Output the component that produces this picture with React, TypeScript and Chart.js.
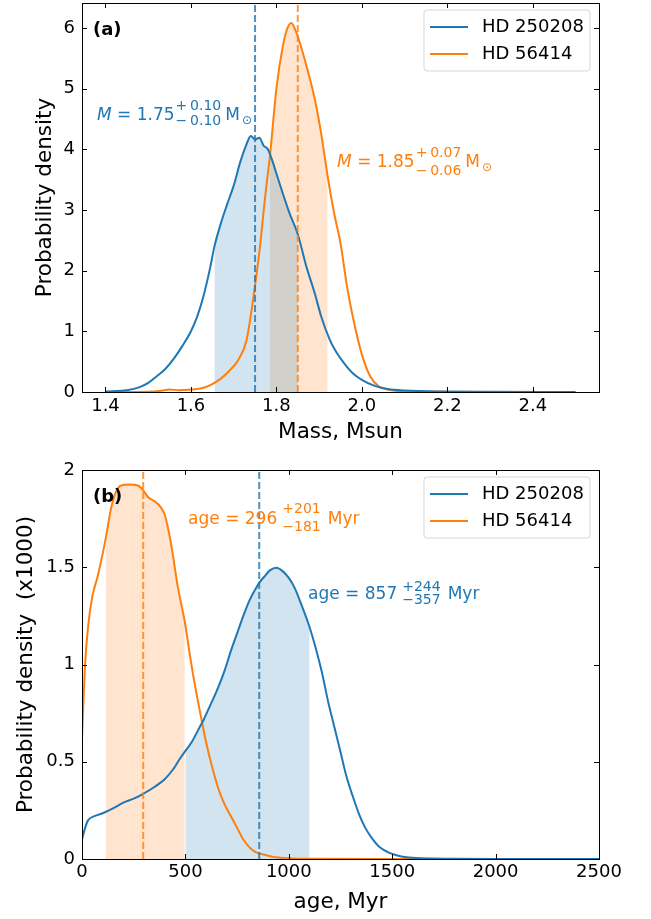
import React, { useEffect, useRef } from 'react';
import { Chart, registerables } from 'chart.js';

Chart.register(...registerables);

const FONT = '"DejaVu Sans", "Liberation Sans", sans-serif';
const BLUE = '#1f77b4';
const ORANGE = '#ff7f0e';
const SERIES_NAMES = ['HD 250208', 'HD 56414'];

// ---------- Panel (a): mass ----------
const massBlueX = [1.40, 1.45, 1.48, 1.50, 1.52, 1.54, 1.56, 1.58, 1.60, 1.615, 1.63, 1.645, 1.655, 1.67, 1.685, 1.70, 1.715, 1.73, 1.74, 1.75, 1.76, 1.77, 1.78, 1.79, 1.80, 1.815, 1.83, 1.85, 1.87, 1.89, 1.905, 1.925, 1.94, 1.96, 1.98, 2.00, 2.03, 2.06, 2.10, 2.20, 2.30, 2.50];
const massBlueY = [0.01, 0.03, 0.08, 0.15, 0.26, 0.38, 0.55, 0.76, 1.00, 1.25, 1.60, 2.05, 2.40, 2.78, 3.10, 3.40, 3.78, 4.08, 4.22, 4.16, 4.19, 4.06, 4.00, 3.82, 3.60, 3.27, 2.96, 2.60, 2.07, 1.62, 1.24, 0.86, 0.66, 0.46, 0.30, 0.20, 0.10, 0.05, 0.025, 0.008, 0.003, 0.0];
const massOrangeX = [1.40, 1.50, 1.53, 1.55, 1.57, 1.60, 1.63, 1.65, 1.67, 1.69, 1.71, 1.73, 1.745, 1.76, 1.775, 1.785, 1.80, 1.815, 1.825, 1.835, 1.845, 1.855, 1.87, 1.89, 1.905, 1.92, 1.935, 1.95, 1.965, 1.98, 2.00, 2.02, 2.04, 2.07, 2.10, 2.20, 2.50];
const massOrangeY = [0.0, 0.005, 0.02, 0.04, 0.03, 0.04, 0.07, 0.13, 0.22, 0.35, 0.52, 0.85, 1.50, 2.30, 3.30, 3.90, 5.00, 5.70, 5.98, 6.08, 5.95, 5.75, 5.38, 4.82, 4.25, 3.55, 2.95, 2.45, 1.75, 1.20, 0.62, 0.25, 0.09, 0.03, 0.01, 0.002, 0.0];
const massMedian = [1.75, 1.85];
const massErrPlus = ['0.10', '0.07'];
const massErrMinus = ['0.10', '0.06'];
const massBlueInterval = [1.655, 1.85];
const massOrangeInterval = [1.785, 1.92];
const massXTicks = [1.4, 1.6, 1.8, 2.0, 2.2, 2.4];
const massXTickLabels = ['1.4', '1.6', '1.8', '2.0', '2.2', '2.4'];
const massYTicks = [0, 1, 2, 3, 4, 5, 6];
const massYTickLabels = ['0', '1', '2', '3', '4', '5', '6'];
const massXRange = [1.345, 2.555];
const massYRange = [0, 6.41];

// ---------- Panel (b): age ----------
const ageBlueX = [0, 15, 30, 60, 100, 150, 200, 250, 296, 350, 400, 440, 470, 500, 530, 560, 590, 620, 650, 690, 720, 750, 780, 810, 840, 857, 880, 910, 940, 970, 1000, 1030, 1060, 1090, 1101, 1130, 1160, 1190, 1220, 1250, 1280, 1310, 1340, 1370, 1400, 1440, 1490, 1550, 1600, 1700, 1800, 2000, 2500];
const ageBlueY = [0.10, 0.16, 0.20, 0.22, 0.235, 0.26, 0.29, 0.31, 0.335, 0.37, 0.41, 0.46, 0.51, 0.556, 0.60, 0.66, 0.72, 0.79, 0.86, 0.97, 1.07, 1.16, 1.25, 1.33, 1.39, 1.42, 1.45, 1.485, 1.497, 1.48, 1.445, 1.39, 1.31, 1.225, 1.19, 1.085, 0.96, 0.81, 0.68, 0.55, 0.42, 0.32, 0.23, 0.16, 0.11, 0.06, 0.03, 0.012, 0.006, 0.002, 0.001, 0.0, 0.0];
const ageOrangeX = [0, 15, 30, 50, 75, 100, 115, 140, 165, 190, 230, 270, 296, 320, 350, 380, 400, 420, 440, 460, 480, 497, 520, 540, 570, 600, 630, 660, 690, 720, 750, 780, 810, 840, 870, 920, 1000, 1100, 1500, 2500];
const ageOrangeY = [0.62, 1.00, 1.20, 1.35, 1.45, 1.57, 1.65, 1.80, 1.89, 1.92, 1.925, 1.92, 1.895, 1.86, 1.84, 1.81, 1.77, 1.68, 1.56, 1.42, 1.31, 1.22, 1.06, 0.93, 0.76, 0.60, 0.47, 0.36, 0.28, 0.22, 0.16, 0.10, 0.06, 0.035, 0.025, 0.012, 0.004, 0.001, 0.0, 0.0];
const ageMedian = [857, 296];
const ageErrPlus = ['244', '201'];
const ageErrMinus = ['357', '181'];
const ageBlueInterval = [500, 1101];
const ageOrangeInterval = [115, 497];
const ageXTicks = [0, 500, 1000, 1500, 2000, 2500];
const ageXTickLabels = ['0', '500', '1000', '1500', '2000', '2500'];
const ageYTicks = [0, 0.5, 1, 1.5, 2];
const ageYTickLabels = ['0', '0.5', '1', '1.5', '2'];
const ageXRange = [0, 2500];
const ageYRange = [0, 2];

type Anno = {
  color: string; x: number; y: number; lead?: string; main: string;
  sup: string; sub: string; supDy: number; subDy: number;
  gap1: number; gap2: number; unit: string; unitSub?: string;
};

type PanelCfg = {
  height: number; areaTop: number; xAxisHeight: number; xTickPad: number;
  xTitle: string; xTitlePad: number; yTitle: string; yTitlePad: number;
  xRange: number[]; yRange: number[]; xTicks: number[]; xTickLabels: string[];
  yTicks: number[]; yTickLabels: string[];
  blue: { x: number; y: number }[]; orange: { x: number; y: number }[];
  blueInt: number[]; orangeInt: number[]; medians: number[];
  label: string; annos: Anno[];
};

const toPts = (xs: number[], ys: number[]) => xs.map((x, i) => ({ x, y: ys[i] }));
const inRange = (pts: { x: number; y: number }[], r: number[]) =>
  pts.filter((p) => p.x >= r[0] - 1e-9 && p.x <= r[1] + 1e-9);

const massPanel: PanelCfg = {
  height: 445, areaTop: 3, xAxisHeight: 53, xTickPad: 4,
  xTitle: 'Mass, Msun', xTitlePad: 0, yTitle: 'Probability density', yTitlePad: 33,
  xRange: massXRange, yRange: massYRange, xTicks: massXTicks, xTickLabels: massXTickLabels,
  yTicks: massYTicks, yTickLabels: massYTickLabels,
  blue: toPts(massBlueX, massBlueY), orange: toPts(massOrangeX, massOrangeY),
  blueInt: massBlueInterval, orangeInt: massOrangeInterval, medians: massMedian,
  label: '(a)',
  annos: [
    { color: BLUE, x: 1.380, y: 4.55, lead: 'M', main: ' = ' + massMedian[0].toFixed(2),
      sup: '+\u2009' + massErrPlus[0], sub: '\u2212\u2009' + massErrMinus[0], supDy: -10, subDy: 5,
      gap1: 1, gap2: 4, unit: 'M', unitSub: '\u2299' },
    { color: ORANGE, x: 1.942, y: 3.775, lead: 'M', main: ' = ' + massMedian[1].toFixed(2),
      sup: '+\u2009' + massErrPlus[1], sub: '\u2212\u2009' + massErrMinus[1], supDy: -10, subDy: 8,
      gap1: 1, gap2: 4, unit: 'M', unitSub: '\u2299' },
  ],
};

const agePanel: PanelCfg = {
  height: 474, areaTop: 25, xAxisHeight: 60, xTickPad: 3,
  xTitle: 'age, Myr', xTitlePad: 4, yTitle: 'Probability density  (x1000)', yTitlePad: 14,
  xRange: ageXRange, yRange: ageYRange, xTicks: ageXTicks, xTickLabels: ageXTickLabels,
  yTicks: ageYTicks, yTickLabels: ageYTickLabels,
  blue: toPts(ageBlueX, ageBlueY), orange: toPts(ageOrangeX, ageOrangeY),
  blueInt: ageBlueInterval, orangeInt: ageOrangeInterval, medians: ageMedian,
  label: '(b)',
  annos: [
    { color: ORANGE, x: 513, y: 1.743, main: 'age = ' + ageMedian[1],
      sup: '+' + ageErrPlus[1], sub: '\u2212' + ageErrMinus[1], supDy: -11, subDy: 7,
      gap1: 5, gap2: 7, unit: 'Myr' },
    { color: BLUE, x: 1093, y: 1.357, main: 'age = ' + ageMedian[0],
      sup: '+' + ageErrPlus[0], sub: '\u2212' + ageErrMinus[0], supDy: -8, subDy: 5,
      gap1: 5, gap2: 7, unit: 'Myr' },
  ],
};

function overlayPlugin(p: PanelCfg) {
  return {
    id: 'overlay' + p.label,
    afterDraw(chart: any) {
      const ctx = chart.ctx as CanvasRenderingContext2D;
      const { left, right, top, bottom } = chart.chartArea;
      const xs = chart.scales.x;
      const ys = chart.scales.y;
      ctx.save();
      // frame
      ctx.strokeStyle = '#000';
      ctx.lineWidth = 1;
      ctx.strokeRect(Math.round(left) + 0.5, Math.round(top) + 0.5, Math.round(right - left), Math.round(bottom - top));
      // inward ticks
      const tl = 5;
      ctx.beginPath();
      p.xTicks.forEach((v) => {
        const px = Math.round(xs.getPixelForValue(v)) + 0.5;
        ctx.moveTo(px, bottom); ctx.lineTo(px, bottom - tl);
        ctx.moveTo(px, top); ctx.lineTo(px, top + tl);
      });
      p.yTicks.forEach((v) => {
        const py = Math.round(ys.getPixelForValue(v)) + 0.5;
        ctx.moveTo(left, py); ctx.lineTo(left + tl, py);
        ctx.moveTo(right, py); ctx.lineTo(right - tl, py);
      });
      ctx.stroke();

      // panel label
      ctx.fillStyle = '#000';
      ctx.font = `bold 18px ${FONT}`;
      ctx.textBaseline = 'middle';
      ctx.textAlign = 'left';
      ctx.fillText(p.label, left + 11, top + 27);

      // annotations
      p.annos.forEach((a) => {
        let cx = xs.getPixelForValue(a.x);
        const cy = ys.getPixelForValue(a.y);
        ctx.fillStyle = a.color;
        if (a.lead) {
          ctx.font = `italic 17px ${FONT}`;
          ctx.fillText(a.lead, cx, cy);
          cx += ctx.measureText(a.lead).width;
        }
        ctx.font = `17px ${FONT}`;
        ctx.fillText(a.main, cx, cy);
        cx += ctx.measureText(a.main).width + a.gap1;
        ctx.font = `14px ${FONT}`;
        ctx.fillText(a.sup, cx, cy + a.supDy);
        ctx.fillText(a.sub, cx, cy + a.subDy);
        cx += Math.max(ctx.measureText(a.sup).width, ctx.measureText(a.sub).width) + a.gap2;
        ctx.font = `17px ${FONT}`;
        ctx.fillText(a.unit, cx, cy);
        cx += ctx.measureText(a.unit).width + 2;
        if (a.unitSub) {
          ctx.font = `12px ${FONT}`;
          ctx.fillText(a.unitSub, cx, cy + 5);
        }
      });

      // legend
      const bw = 166, bh = 61;
      const bx = right - 9 - bw, by = top + 7;
      ctx.beginPath();
      const r = 3;
      ctx.moveTo(bx + r, by);
      ctx.arcTo(bx + bw, by, bx + bw, by + bh, r);
      ctx.arcTo(bx + bw, by + bh, bx, by + bh, r);
      ctx.arcTo(bx, by + bh, bx, by, r);
      ctx.arcTo(bx, by, bx + bw, by, r);
      ctx.closePath();
      ctx.fillStyle = 'rgba(255,255,255,0.8)';
      ctx.fill();
      ctx.strokeStyle = 'rgba(204,204,204,0.8)';
      ctx.lineWidth = 1;
      ctx.stroke();
      const colors = [BLUE, ORANGE];
      SERIES_NAMES.forEach((name, i) => {
        const ry = top + 24 + i * 27;
        ctx.strokeStyle = colors[i];
        ctx.lineWidth = 2;
        ctx.beginPath();
        ctx.moveTo(bx + 6, ry);
        ctx.lineTo(bx + 44, ry);
        ctx.stroke();
        ctx.fillStyle = '#000';
        ctx.font = `18px ${FONT}`;
        ctx.textBaseline = 'middle';
        ctx.fillText(name, bx + 58, ry);
      });
      ctx.restore();
    },
  };
}

function makeConfig(p: PanelCfg): any {
  const [yMin, yMax] = p.yRange;
  const dashed = (x: number, color: string) => ({
    data: [{ x, y: yMin }, { x, y: yMax }],
    borderColor: color, borderWidth: 2, borderDash: [7, 3], pointRadius: 0, fill: false, order: 0,
  });
  const curve = (pts: any[], color: string) => ({
    data: pts, borderColor: color, borderWidth: 2, pointRadius: 0, fill: false,
    cubicInterpolationMode: 'monotone', order: 1,
  });
  const shade = (pts: any[], color: string) => ({
    data: pts, borderColor: 'rgba(0,0,0,0)', borderWidth: 0, backgroundColor: color,
    pointRadius: 0, fill: 'origin', cubicInterpolationMode: 'monotone', order: 2,
  });
  return {
    type: 'line',
    data: {
      datasets: [
        dashed(p.medians[0], 'rgba(31,119,180,0.8)'),
        dashed(p.medians[1], 'rgba(255,127,14,0.8)'),
        curve(p.blue, BLUE),
        curve(p.orange, ORANGE),
        shade(inRange(p.blue, p.blueInt), 'rgba(31,119,180,0.2)'),
        shade(inRange(p.orange, p.orangeInt), 'rgba(255,127,14,0.2)'),
      ],
    },
    options: {
      animation: false,
      responsive: false,
      devicePixelRatio: 1,
      layout: { padding: { top: p.areaTop, right: 52, left: 0, bottom: 0 } },
      plugins: { legend: { display: false }, tooltip: { enabled: false } },
      scales: {
        x: {
          type: 'linear', min: p.xRange[0], max: p.xRange[1],
          grid: { display: false, drawTicks: false }, border: { display: false },
          ticks: {
            color: '#000', font: { family: FONT, size: 18 }, padding: p.xTickPad,
            autoSkip: false, maxRotation: 0, includeBounds: false,
            callback: (_v: any, i: number) => p.xTickLabels[i],
          },
          afterBuildTicks: (s: any) => { s.ticks = p.xTicks.map((v) => ({ value: v })); },
          afterFit: (s: any) => { s.height = p.xAxisHeight; s.paddingLeft = 0; s.paddingRight = 0; },
          title: {
            display: true, text: p.xTitle, color: '#000', font: { family: FONT, size: 21.5 },
            padding: { top: 0, bottom: p.xTitlePad },
          },
        },
        y: {
          type: 'linear', min: yMin, max: yMax,
          grid: { display: false, drawTicks: false }, border: { display: false },
          ticks: {
            color: '#000', font: { family: FONT, size: 18 }, padding: 7, autoSkip: false,
            includeBounds: false,
            callback: (_v: any, i: number) => p.yTickLabels[i],
          },
          afterBuildTicks: (s: any) => { s.ticks = p.yTicks.map((v) => ({ value: v })); },
          afterFit: (s: any) => { s.width = 82; s.paddingTop = 0; s.paddingBottom = 0; },
          title: {
            display: true, text: p.yTitle, color: '#000', font: { family: FONT, size: 21.5 },
            padding: { top: p.yTitlePad, bottom: 0 },
          },
        },
      },
    },
    plugins: [overlayPlugin(p)],
  };
}

function Panel({ cfg }: { cfg: PanelCfg }) {
  const ref = useRef<HTMLCanvasElement>(null);
  useEffect(() => {
    const chart = new Chart(ref.current as HTMLCanvasElement, makeConfig(cfg));
    return () => chart.destroy();
  }, [cfg]);
  return (
    <canvas ref={ref} width={651} height={cfg.height}
      style={{ display: 'block', width: 651, height: cfg.height }} />
  );
}

export default function App() {
  return (
    <div style={{ position: 'absolute', left: 0, top: 0, width: 651, height: 919, background: '#fff' }}>
      <Panel cfg={massPanel} />
      <Panel cfg={agePanel} />
    </div>
  );
}
